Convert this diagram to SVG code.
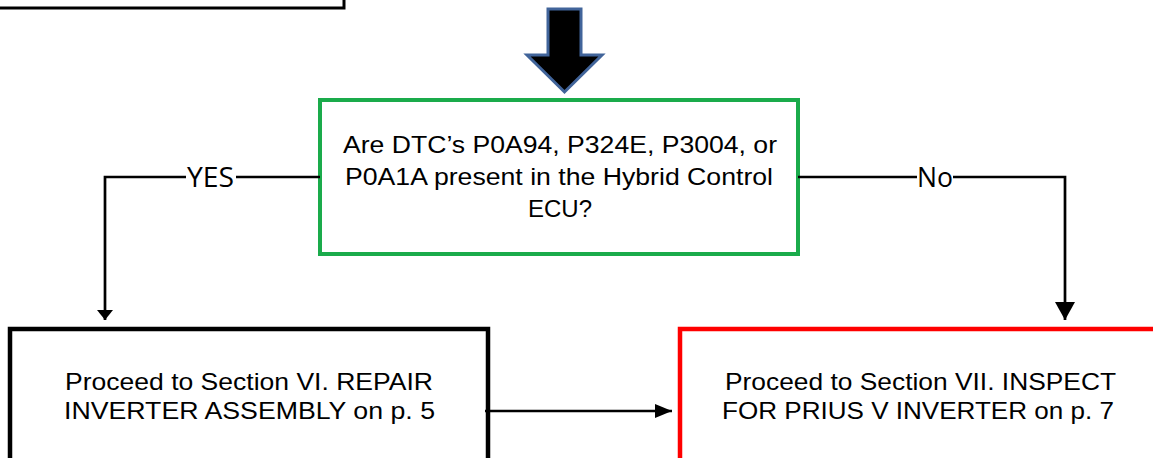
<svg xmlns="http://www.w3.org/2000/svg" width="1153" height="458" viewBox="0 0 1153 458">
  <style>
    .box { fill: #ffffff; }
    .txt { font-family: "Liberation Sans", Arial, sans-serif; font-size: 24.5px; fill: #000000; text-anchor: middle; }
    .lbl { font-family: "Open Sans", "Liberation Sans", sans-serif; font-size: 27px; fill: #000000; text-anchor: middle; }
    .conn { fill: none; stroke: #000000; stroke-width: 2.7; }
  </style>
  <defs>
    <marker id="headYes" viewBox="0 0 10 10" refX="10" refY="5" markerWidth="10" markerHeight="16" markerUnits="userSpaceOnUse" orient="auto" preserveAspectRatio="none">
      <path d="M0,0 L10,5 L0,10 Z" fill="#000000"/>
    </marker>
    <marker id="headNo" viewBox="0 0 10 10" refX="10" refY="5" markerWidth="18" markerHeight="20" markerUnits="userSpaceOnUse" orient="auto" preserveAspectRatio="none">
      <path d="M0,0 L10,5 L0,10 Z" fill="#000000"/>
    </marker>
    <marker id="headSide" viewBox="0 0 10 10" refX="10" refY="5" markerWidth="17" markerHeight="14" markerUnits="userSpaceOnUse" orient="auto" preserveAspectRatio="none">
      <path d="M0,0 L10,5 L0,10 Z" fill="#000000"/>
    </marker>
  </defs>

  <!-- box running off the top edge -->
  <g id="top-box">
    <rect class="box" x="-20" y="-40" width="364" height="48" stroke="#000000" stroke-width="3"/>
  </g>

  <!-- downward block arrow -->
  <g id="block-arrow">
    <path d="M548,9 L581,9 L581,55 L602,55 L564.5,92 L527,55 L548,55 Z" fill="#000000" stroke="#41649a" stroke-width="3" stroke-linejoin="miter"/>
  </g>

  <!-- question node -->
  <g id="question">
    <rect class="box" x="320" y="100" width="478" height="154" stroke="#1aab4b" stroke-width="4"/>
    <text class="txt" x="560" y="153" textLength="434" lengthAdjust="spacingAndGlyphs">Are DTC’s P0A94, P324E, P3004, or</text>
    <text class="txt" x="559" y="185" textLength="428" lengthAdjust="spacingAndGlyphs">P0A1A present in the Hybrid Control</text>
    <text class="txt" x="560" y="217" textLength="64" lengthAdjust="spacingAndGlyphs">ECU?</text>
  </g>

  <!-- repair node -->
  <g id="repair">
    <rect class="box" x="10" y="329" width="478" height="160" stroke="#000000" stroke-width="4.5"/>
    <text class="txt" x="249" y="390" textLength="368" lengthAdjust="spacingAndGlyphs">Proceed to Section VI. REPAIR</text>
    <text class="txt" x="249.5" y="419" textLength="371" lengthAdjust="spacingAndGlyphs">INVERTER ASSEMBLY on p. 5</text>
  </g>

  <!-- inspect node -->
  <g id="inspect">
    <rect class="box" x="680" y="329" width="500" height="160" stroke="#ff0000" stroke-width="4.5"/>
    <text class="txt" x="920.5" y="390" textLength="391" lengthAdjust="spacingAndGlyphs">Proceed to Section VII. INSPECT</text>
    <text class="txt" x="918" y="419" textLength="392" lengthAdjust="spacingAndGlyphs">FOR PRIUS V INVERTER on p. 7</text>
  </g>

  <!-- connectors -->
  <g id="connectors">
    <path class="conn" d="M320,177 L236,177 M186,177 L105,177 L105,320" marker-end="url(#headYes)"/>
    <text class="lbl" x="210.5" y="187" textLength="47" lengthAdjust="spacingAndGlyphs">YES</text>
    <path class="conn" d="M798,177 L917,177 M953,177 L1065,177 L1065,320" marker-end="url(#headNo)"/>
    <text class="lbl" x="935" y="187" textLength="36" lengthAdjust="spacingAndGlyphs">No</text>
    <path class="conn" d="M485,411 L672,411" stroke-width="4" marker-end="url(#headSide)"/>
  </g>
</svg>
